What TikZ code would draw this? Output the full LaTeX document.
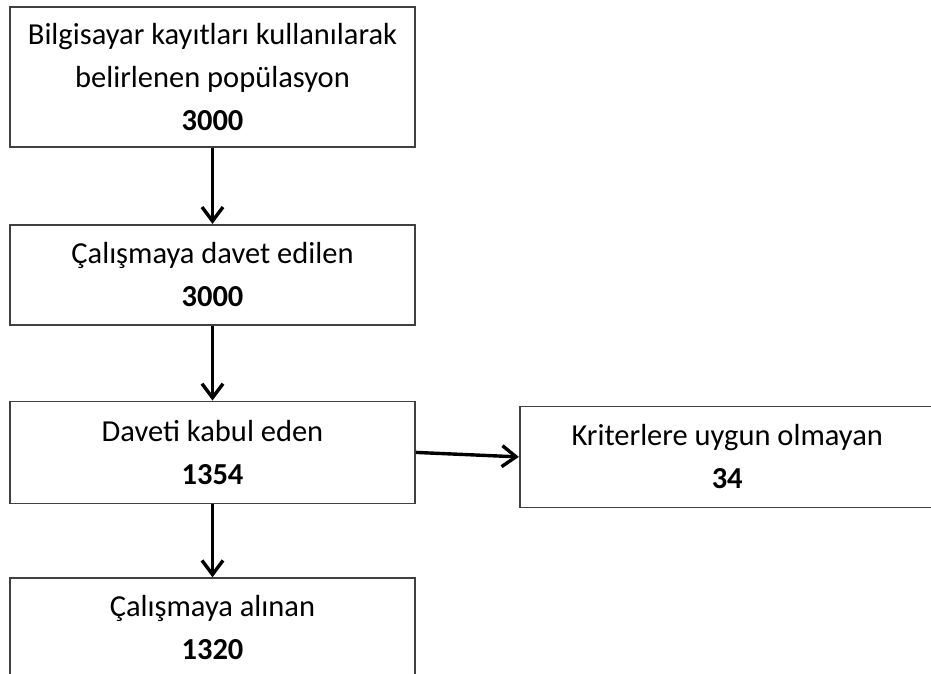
\documentclass[tikz,border=0pt]{standalone}
\usepackage{fontspec}
\setmainfont{Carlito}
\usepackage{tikz}
\usetikzlibrary{arrows.meta,positioning}

\begin{document}
\begin{tikzpicture}[
  x=1pt, y=1pt,
  node distance=75pt and 103pt,
  box/.style={draw=black!75, line width=1.7pt, align=center, inner sep=0pt,
              minimum width=405pt, minimum height=100pt,
              font=\fontsize{30.5}{43}\selectfont},
  every edge/.style={draw, line width=3.4pt, -{Straight Barb[length=14pt,width=21pt]}}
]
\useasboundingbox (0,0) rectangle (931,-673);

\node[box, minimum height=140pt] (pop) at (212.5,-77)
     {Bilgisayar kayıtları kullanılarak\\belirlenen popülasyon\\\textbf{3000}};
\node[box, below=76pt of pop] (davet) {Çalışmaya davet edilen\\\textbf{3000}};
\node[box, below=75pt of davet, minimum height=102pt] (kabul)
     {Daveti kabul eden\\\textbf{1354}};
\node[box, right=103pt of kabul, yshift=-4.5pt, minimum width=415pt,
      minimum height=101pt] (kriter) {Kriterlere uygun olmayan\\\textbf{34}};
\node[box, below=73pt of kabul, minimum height=99pt] (alinan)
     {Çalışmaya alınan\\\textbf{1320}};

\draw (pop) edge (davet);
\draw (davet) edge (kabul);
\draw (kabul) edge (alinan);
\draw (kabul.east) edge (kriter.west);
\end{tikzpicture}
\end{document}
